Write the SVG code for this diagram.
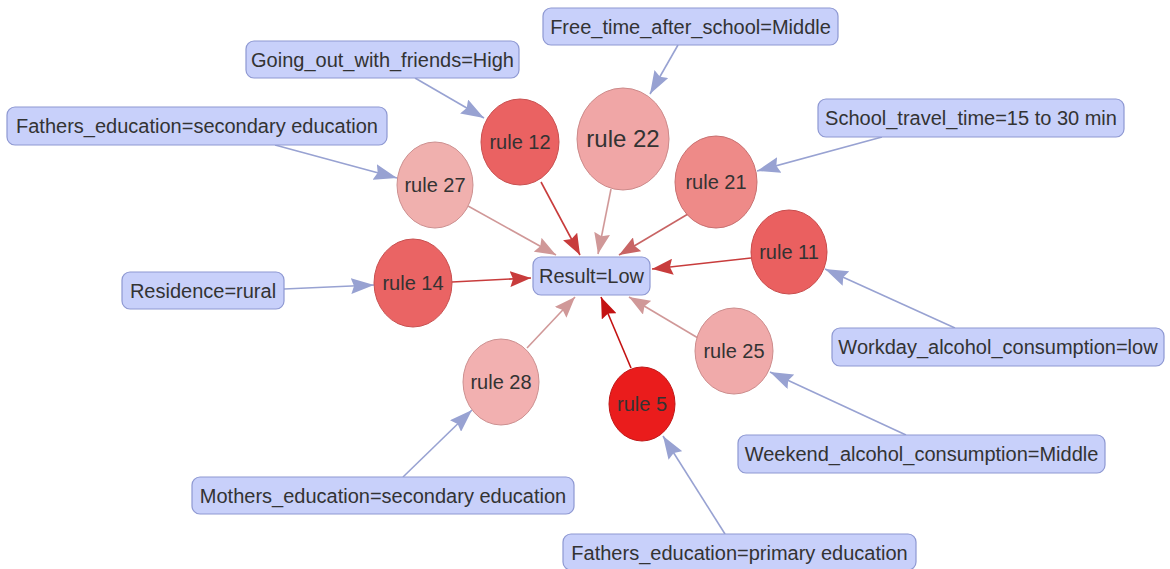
<svg xmlns="http://www.w3.org/2000/svg" width="1170" height="569" viewBox="0 0 1170 569">
<style>
.box{fill:#c8d0fa;stroke:#8e98d2;stroke-width:1.2}
.lbl{font-family:"Liberation Sans",Arial,sans-serif;font-size:20px;fill:#333;text-anchor:middle}
.rule{stroke-width:1}
.be{stroke:#98a2d2;stroke-width:1.6;fill:none;marker-end:url(#mb)}
.e1{stroke:#c83c3c;stroke-width:1.6;fill:none;marker-end:url(#m1)}
.e2{stroke:#d09898;stroke-width:1.6;fill:none;marker-end:url(#m2)}
.e3{stroke:#c86464;stroke-width:1.6;fill:none;marker-end:url(#m3)}
.e5{stroke:#c41212;stroke-width:1.6;fill:none;marker-end:url(#m5)}
</style>
<defs>
<marker id="mb" markerUnits="userSpaceOnUse" markerWidth="24" markerHeight="16" refX="23" refY="8" orient="auto"><path d="M0,0 L23,8 L0,16 L3,8 z" fill="#98a2d2"/></marker>
<marker id="m1" markerUnits="userSpaceOnUse" markerWidth="22" markerHeight="16" refX="21" refY="8" orient="auto"><path d="M0,0 L21,8 L0,16 L3,8 z" fill="#c83c3c"/></marker>
<marker id="m2" markerUnits="userSpaceOnUse" markerWidth="22" markerHeight="16" refX="21" refY="8" orient="auto"><path d="M0,0 L21,8 L0,16 L3,8 z" fill="#d09898"/></marker>
<marker id="m3" markerUnits="userSpaceOnUse" markerWidth="22" markerHeight="16" refX="21" refY="8" orient="auto"><path d="M0,0 L21,8 L0,16 L3,8 z" fill="#c86464"/></marker>
<marker id="m5" markerUnits="userSpaceOnUse" markerWidth="22" markerHeight="16" refX="21" refY="8" orient="auto"><path d="M0,0 L21,8 L0,16 L3,8 z" fill="#c41212"/></marker>
</defs>
<rect width="1170" height="569" fill="#fff"/>
<g id="connectors">
<line class="be" x1="678" y1="45" x2="650" y2="94"/>
<line class="be" x1="415" y1="78" x2="484" y2="118"/>
<line class="be" x1="275" y1="145" x2="397" y2="178"/>
<line class="be" x1="882" y1="137" x2="757" y2="171"/>
<line class="be" x1="284" y1="289" x2="374" y2="285"/>
<line class="be" x1="955" y1="328" x2="825" y2="269"/>
<line class="be" x1="906" y1="435" x2="770" y2="372"/>
<line class="be" x1="403" y1="477" x2="472" y2="410"/>
<line class="be" x1="725" y1="534" x2="663" y2="436"/>
<line class="e1" x1="541" y1="182" x2="580" y2="255"/>
<line class="e2" x1="611" y1="189" x2="598" y2="254"/>
<line class="e3" x1="688" y1="214" x2="619" y2="255"/>
<line class="e2" x1="468" y1="206" x2="556" y2="255"/>
<line class="e1" x1="452" y1="282" x2="531" y2="278"/>
<line class="e1" x1="751" y1="258" x2="652" y2="269"/>
<line class="e2" x1="698" y1="338" x2="629" y2="297"/>
<line class="e2" x1="527" y1="348" x2="575" y2="297"/>
<line class="e5" x1="631" y1="368" x2="601" y2="297"/>
</g>
<g id="rule12"><ellipse class="rule" cx="520" cy="142" rx="39" ry="43" fill="#ea6262" stroke="#c85050"/><text class="lbl" x="520" y="149">rule 12</text></g>
<g id="rule22"><ellipse class="rule" cx="623" cy="139" rx="46" ry="51" fill="#f0a6a6" stroke="#cc8a8a"/><text class="lbl" x="623" y="147" style="font-size:24px">rule 22</text></g>
<g id="rule21"><ellipse class="rule" cx="716" cy="182" rx="41" ry="46" fill="#ee8a88" stroke="#c87070"/><text class="lbl" x="716" y="189">rule 21</text></g>
<g id="rule27"><ellipse class="rule" cx="435" cy="185" rx="38" ry="43" fill="#f0b0ae" stroke="#cc9090"/><text class="lbl" x="435" y="192">rule 27</text></g>
<g id="rule14"><ellipse class="rule" cx="413" cy="283" rx="39" ry="44" fill="#ea6464" stroke="#c85050"/><text class="lbl" x="413" y="290">rule 14</text></g>
<g id="rule11"><ellipse class="rule" cx="789" cy="252" rx="38" ry="42" fill="#ea6060" stroke="#c84c4c"/><text class="lbl" x="789" y="259">rule 11</text></g>
<g id="rule25"><ellipse class="rule" cx="734" cy="351" rx="39" ry="43" fill="#f0aaaa" stroke="#cc8c8c"/><text class="lbl" x="734" y="358">rule 25</text></g>
<g id="rule28"><ellipse class="rule" cx="501" cy="382" rx="38" ry="43" fill="#f2b0b0" stroke="#cc9090"/><text class="lbl" x="501" y="389">rule 28</text></g>
<g id="rule5"><ellipse class="rule" cx="642" cy="404" rx="33" ry="37" fill="#ea1c1c" stroke="#c01818"/><text class="lbl" x="642" y="411">rule 5</text></g>
<g id="result"><rect class="box" x="533" y="257" width="117" height="38" rx="8"/><text class="lbl" x="591.5" y="283">Result=Low</text></g>
<g id="free_time"><rect class="box" x="543" y="8" width="295" height="37" rx="8"/><text class="lbl" x="690.5" y="34">Free_time_after_school=Middle</text></g>
<g id="going_out"><rect class="box" x="246" y="41" width="273" height="37" rx="8"/><text class="lbl" x="382.5" y="67">Going_out_with_friends=High</text></g>
<g id="fathers_secondary"><rect class="box" x="7" y="107" width="380" height="38" rx="8"/><text class="lbl" x="197" y="133">Fathers_education=secondary education</text></g>
<g id="school_travel"><rect class="box" x="818" y="99" width="306" height="38" rx="8"/><text class="lbl" x="971" y="125">School_travel_time=15 to 30 min</text></g>
<g id="residence"><rect class="box" x="122" y="272" width="162" height="37" rx="8"/><text class="lbl" x="203" y="298">Residence=rural</text></g>
<g id="workday"><rect class="box" x="832" y="328" width="332" height="38" rx="8"/><text class="lbl" x="998" y="354">Workday_alcohol_consumption=low</text></g>
<g id="weekend"><rect class="box" x="738" y="435" width="367" height="38" rx="8"/><text class="lbl" x="921.5" y="461">Weekend_alcohol_consumption=Middle</text></g>
<g id="mothers"><rect class="box" x="192" y="477" width="382" height="37" rx="8"/><text class="lbl" x="383" y="503">Mothers_education=secondary education</text></g>
<g id="fathers_primary"><rect class="box" x="563" y="534" width="353" height="36" rx="8"/><text class="lbl" x="739.5" y="560">Fathers_education=primary education</text></g>
</svg>
